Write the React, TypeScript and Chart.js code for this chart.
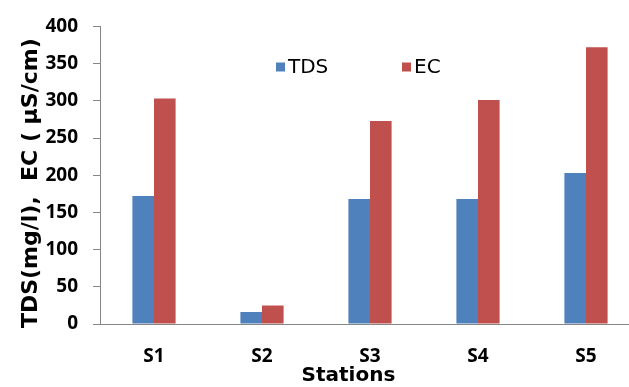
import React, { useEffect, useRef } from "react";
import { Chart, registerables } from "chart.js";

Chart.register(...registerables);

// Stations and measured values
const stations = ["S1", "S2", "S3", "S4", "S5"];
const tdsValues = [172, 16, 168, 168, 203];
const ecValues = [303, 25, 273, 301, 372];

const seriesLabels = ["TDS", "EC"];
const seriesColors = ["#4F81BD", "#C0504D"];

const yMin = 0;
const yMax = 400;
const yStep = 50;

const yTitle = "TDS(mg/l),  EC ( µS/cm)";
const xTitle = "Stations";

const CANVAS_W = 645;
const CANVAS_H = 400;

// Draws the axis titles and the in-plot legend
const titlesAndLegend = {
  id: "titlesAndLegend",
  afterDraw(chart: any) {
    const { ctx, chartArea } = chart;
    const midY = (chartArea.top + chartArea.bottom) / 2;

    ctx.save();
    ctx.fillStyle = "#000";
    ctx.textAlign = "center";
    ctx.textBaseline = "middle";

    // vertical axis title
    ctx.save();
    ctx.font = "bold 22px 'DejaVu Sans'";
    ctx.translate(31, midY + 8);
    ctx.rotate(-Math.PI / 2);
    ctx.fillText(yTitle, 0, 0);
    ctx.restore();

    // horizontal axis title
    ctx.font = "bold 20px 'DejaVu Sans'";
    ctx.fillText(xTitle, chartArea.left + (chartArea.right - chartArea.left) * 0.46, 376);

    // legend
    ctx.font = "20px 'DejaVu Sans'";
    ctx.textAlign = "left";
    const legendX = 276;
    const legendY = 67;
    const gap = 126;
    chart.data.datasets.forEach((ds: any, i: number) => {
      const x = legendX + i * gap;
      ctx.fillStyle = ds.backgroundColor;
      ctx.fillRect(x, legendY - 4.5, 9, 9);
      ctx.fillStyle = "#000";
      ctx.fillText(ds.label, x + 12, legendY + 1);
    });

    ctx.restore();
  },
};

export default function App() {
  const canvasRef = useRef<HTMLCanvasElement | null>(null);

  useEffect(() => {
    const canvas = canvasRef.current;
    if (!canvas) return;
    const chart = new Chart(canvas, {
      type: "bar",
      data: {
        labels: stations,
        datasets: [
          {
            label: seriesLabels[0],
            data: tdsValues,
            backgroundColor: seriesColors[0],
            categoryPercentage: 0.4,
            barPercentage: 1.0,
          },
          {
            label: seriesLabels[1],
            data: ecValues,
            backgroundColor: seriesColors[1],
            categoryPercentage: 0.4,
            barPercentage: 1.0,
          },
        ],
      },
      options: {
        responsive: false,
        animation: false,
        devicePixelRatio: 1,
        layout: { padding: { top: 21, right: 5, left: 0, bottom: 0 } },
        plugins: {
          legend: { display: false },
          tooltip: { enabled: false },
          title: { display: false },
        },
        scales: {
          x: {
            grid: { display: false },
            border: { display: true, color: "#868686", width: 1 },
            ticks: {
              color: "#000",
              font: { family: "'Open Sans'", size: 19, weight: "bold" },
              padding: 13,
            },
            afterFit(scale: any) {
              scale.height = CANVAS_H - 324;
            },
          },
          y: {
            min: yMin,
            max: yMax,
            ticks: {
              stepSize: yStep,
              color: "#000",
              font: { family: "'Open Sans'", size: 19, weight: "bold" },
              padding: 15,
            },
            grid: {
              drawOnChartArea: false,
              drawTicks: true,
              tickLength: 7,
              color: "#868686",
            },
            border: { display: true, color: "#868686", width: 1 },
            afterFit(scale: any) {
              scale.width = 100;
            },
          },
        },
      },
      plugins: [titlesAndLegend],
    });
    return () => chart.destroy();
  }, []);

  return (
    <div
      style={{
        position: "fixed",
        left: 0,
        top: 0,
        width: 629,
        height: 387,
        overflow: "hidden",
        background: "#fff",
      }}
    >
      <canvas
        ref={canvasRef}
        width={CANVAS_W}
        height={CANVAS_H}
        style={{ display: "block", width: CANVAS_W, height: CANVAS_H }}
      />
    </div>
  );
}
